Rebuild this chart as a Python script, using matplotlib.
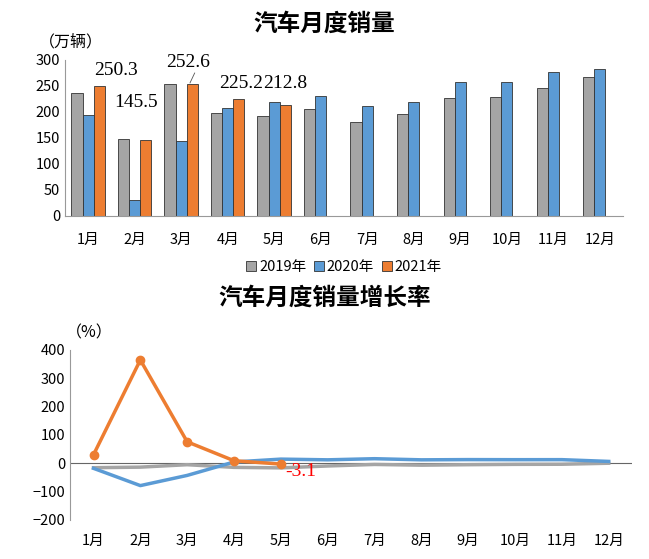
import matplotlib
matplotlib.use("Agg")
import matplotlib.pyplot as plt
import numpy as np

plt.rcParams['font.family'] = ['Noto Sans CJK SC', 'DejaVu Sans']

months = ['1月','2月','3月','4月','5月','6月','7月','8月','9月','10月','11月','12月']
sales_2019 = [237,148,253,198,191,206,181,196,227,229,245,266]
sales_2020 = [194,31,143,207,219,230,211,219,257,257,277,283]
sales_2021 = [250.3,145.5,252.6,225.2,212.8]
growth_2019 = [-15.8,-13.8,-5.2,-14.6,-16.4,-9.7,-4.3,-6.9,-5.2,-4.0,-3.6,0.0]
growth_2020 = [-18,-79,-43,4.4,14.5,12,16,12,12.8,12.5,12.6,6.4]
growth_2021 = [29.9,364.6,75.6,8.8,-3.1]

gray, blue, orange = '#A5A5A5', '#5B9BD5', '#ED7D31'
fig = plt.figure(figsize=(6.49,5.59), dpi=100)

ax = fig.add_axes([0.100,0.614,0.860,0.279])
x = np.arange(12)
w = 0.24
ax.bar(x-w, sales_2019, w, color=gray, edgecolor='#333333', lw=0.6, label='2019年')
ax.bar(x, sales_2020, w, color=blue, edgecolor='#333333', lw=0.6, label='2020年')
ax.bar(np.arange(5)+w, sales_2021, w, color=orange, edgecolor='#333333', lw=0.6, label='2021年')
ax.set_xlim(-0.5,11.5); ax.set_ylim(0,300)
ax.set_yticks(range(0,301,50))
ax.set_xticks(x); ax.set_xticklabels(months)
for s in ['top','right']: ax.spines[s].set_visible(False)
ax.spines['bottom'].set_color('#999999'); ax.spines['left'].set_color('#999999')
ax.tick_params(length=0, labelsize=10.5)
ax.tick_params(axis='x', pad=12)
offs = [(0.35,12),(-0.2,56),(-0.1,25),(0.05,12),(0.0,26)]
for i,v in enumerate(sales_2021):
    dx, dy = offs[i]
    ax.text(i+w+dx, v+dy, f'{v}', ha='center', va='bottom', fontsize=14, family='Liberation Serif')
ax.plot([2+w-0.05, 2+w+0.05],[sales_2021[2]+3, sales_2021[2]+22], color='#555555', lw=0.6)
ax.text(-1.05, 318, '（万辆）', fontsize=11.5, ha='left', va='bottom')
fig.text(0.5, 0.945, '汽车月度销量', ha='center', fontsize=17, fontweight='bold')
ax.legend(loc='upper center', bbox_to_anchor=(0.5,-0.2), ncol=3, frameon=False, fontsize=10.5,
          handlelength=0.7, handleheight=0.7, columnspacing=0.5, handletextpad=0.2)

ax2 = fig.add_axes([0.108,0.070,0.866,0.304])
ax2.plot(x, growth_2019, color=gray, lw=2.5)
ax2.plot(x, growth_2020, color=blue, lw=2.5)
ax2.plot(np.arange(5), growth_2021, color=orange, lw=2.5, marker='o', ms=6)
ax2.axhline(0, color='#666666', lw=0.8, zorder=0)
ax2.set_xlim(-0.5,11.5); ax2.set_ylim(-200,400)
ax2.set_yticks(range(-200,401,100))
ax2.set_xticks(x); ax2.set_xticklabels(months)
for s in ['top','right','bottom']: ax2.spines[s].set_visible(False)
ax2.spines['left'].set_color('#999999')
ax2.tick_params(length=0, labelsize=10.5)
ax2.tick_params(axis='x', pad=10)
ax2.text(4.1, -45, f'{growth_2021[4]}', color='red', fontsize=14, family='Liberation Serif')
ax2.text(-0.6, 430, '（%）', fontsize=11.5, ha='left', va='bottom')
fig.text(0.5, 0.455, '汽车月度销量增长率', ha='center', fontsize=17, fontweight='bold')

fig.savefig('out.png', dpi=100)
